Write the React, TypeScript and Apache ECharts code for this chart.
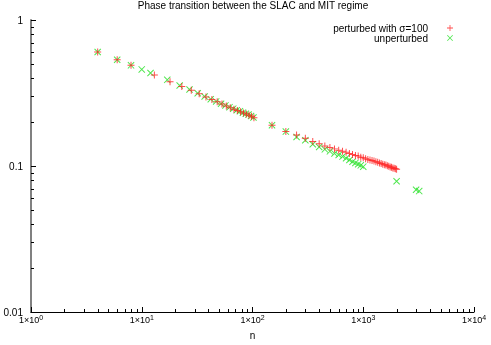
import React, { useEffect, useRef } from "react";
import * as echarts from "echarts";

const titleText = "Phase transition between the SLAC and MIT regime";
const perturbedName = "perturbed with \u03c3=100";
const unperturbedName = "unperturbed";

const perturbedN = [4, 6, 8, 13, 18, 23, 28, 33, 38, 43, 48, 53, 58, 63, 68, 73, 78, 83, 88, 93, 98, 103,
  150, 200, 250, 300, 350, 400, 450, 500, 550, 600, 650, 700, 750, 800, 850, 900, 950, 1000,
  1050, 1100, 1150, 1200, 1250, 1300, 1350, 1400, 1450, 1500, 1550, 1600, 1650, 1700, 1750, 1800, 1850, 1900, 1950, 2000];
const perturbedV = [0.603, 0.534, 0.489, 0.42, 0.377, 0.35, 0.33, 0.312, 0.297, 0.285, 0.275, 0.266, 0.258, 0.251, 0.245, 0.24, 0.235, 0.231, 0.227, 0.223, 0.219, 0.214,
  0.19, 0.172, 0.163, 0.155, 0.147, 0.142, 0.137, 0.134, 0.131, 0.128, 0.126, 0.124, 0.122, 0.12, 0.118, 0.117, 0.115, 0.114,
  0.112, 0.111, 0.11, 0.109, 0.108, 0.107, 0.106, 0.105, 0.104, 0.103, 0.102, 0.1015, 0.1005, 0.0995, 0.0985, 0.098, 0.097, 0.0965, 0.0958, 0.095];

const unperturbedN = [4, 6, 8, 10, 12, 17, 22, 27, 32, 37, 42, 47, 52, 57, 62, 67, 72, 77, 82, 87, 92, 97, 102,
  150, 200, 250, 300, 350, 400, 450, 500, 550, 600, 650, 700, 750, 800, 850, 900, 950, 1000, 2000, 3000, 3200];
const unperturbedV = [0.603, 0.534, 0.489, 0.459, 0.434, 0.389, 0.356, 0.334, 0.315, 0.299, 0.287, 0.277, 0.267, 0.26, 0.253, 0.247, 0.241, 0.237, 0.232, 0.228, 0.225, 0.22, 0.215,
  0.19, 0.172, 0.158, 0.15, 0.141, 0.135, 0.13, 0.126, 0.122, 0.119, 0.116, 0.113, 0.11, 0.107, 0.105, 0.103, 0.101, 0.099, 0.0787, 0.0687, 0.0673];

const xMinorTicks = [2, 3, 4, 5, 6, 7, 8, 9, 20, 30, 40, 50, 60, 70, 80, 90, 200, 300, 400, 500, 600, 700, 800, 900,
  2000, 3000, 4000, 5000, 6000, 7000, 8000, 9000];
const yMinorTicks = [0.02, 0.03, 0.04, 0.05, 0.06, 0.07, 0.08, 0.09, 0.2, 0.3, 0.4, 0.5, 0.6, 0.7, 0.8, 0.9];

const FONT = "Liberation Sans";
const PLUS = "path://M0,4.3H10V5.7H0Z M4.3,0H5.7V10H4.3Z";
const CROSS = "path://M0,1L1,0L10,9L9,10Z M9,0L10,1L1,10L0,9Z";

export default function App() {
  const ref = useRef<HTMLDivElement>(null);
  useEffect(() => {
    if (!ref.current) return;
    const chart = echarts.init(ref.current, undefined, { renderer: "svg" });
    const pert = perturbedN.map((n, i) => [n, perturbedV[i]]);
    const unpert = unperturbedN.map((n, i) => [n, unperturbedV[i]]);
    const xt = xMinorTicks.map((v) => [v, 0.01]);
    const yt = yMinorTicks.map((v) => [1, v]);
    const legendBase = {
      right: 38,
      align: "right",
      padding: 0,
      itemWidth: 6,
      itemHeight: 6,
      textStyle: { fontSize: 10, color: "#000", fontFamily: FONT, padding: [0, 14, 0, 0] },
    };
    chart.setOption({
      animation: false,
      textStyle: { fontFamily: FONT },
      title: {
        text: titleText,
        left: 253,
        top: 0,
        padding: 0,
        textAlign: "center",
        textStyle: { fontSize: 10, fontWeight: "normal", color: "#000", fontFamily: FONT },
      },
      legend: [
        { ...legendBase, data: [perturbedName], top: 23 },
        { ...legendBase, data: [unperturbedName], top: 33 },
      ],
      grid: { left: 31, right: 17, top: 20, bottom: 31, containLabel: false },
      xAxis: {
        type: "log",
        logBase: 10,
        min: 1,
        max: 10000,
        name: "n",
        nameLocation: "middle",
        nameGap: 18,
        nameTextStyle: { fontSize: 10, color: "#000", fontFamily: FONT },
        axisLine: { lineStyle: { color: "#000", width: 1 } },
        axisTick: { inside: true, length: 5, lineStyle: { color: "#000" } },
        splitLine: { show: false },
        axisLabel: {
          margin: 2,
          formatter: (v: number) => `{a|1\u00d710}{b|${Math.round(Math.log10(v))}}`,
          rich: {
            a: { fontSize: 9, color: "#000", fontFamily: FONT, lineHeight: 12 },
            b: { fontSize: 7, color: "#000", fontFamily: FONT, verticalAlign: "top", lineHeight: 12 },
          },
        },
      },
      yAxis: {
        type: "log",
        logBase: 10,
        min: 0.01,
        max: 1,
        axisLine: { lineStyle: { color: "#808080", width: 2 } },
        axisTick: { inside: true, length: 5, lineStyle: { color: "#000" } },
        splitLine: { show: false },
        axisLabel: {
          margin: 8,
          fontSize: 10,
          color: "#000",
          fontFamily: FONT,
          formatter: (v: number) => String(+v.toPrecision(3)),
        },
      },
      series: [
        {
          name: unperturbedName,
          type: "scatter",
          data: unpert,
          symbol: CROSS,
          symbolSize: 7,
          itemStyle: { color: "#22e022" },
          z: 2,
        },
        {
          name: perturbedName,
          type: "scatter",
          data: pert,
          symbol: PLUS,
          symbolSize: 7,
          itemStyle: { color: "#ff2020" },
          z: 3,
        },
        {
          type: "custom",
          silent: true,
          data: xt,
          z: 4,
          renderItem: (_p: any, api: any) => {
            const c = api.coord([api.value(0), api.value(1)]);
            const x = Math.round(c[0]) + 0.5;
            return {
              type: "line",
              shape: { x1: x, y1: c[1], x2: x, y2: c[1] - 3 },
              style: { stroke: "#000", lineWidth: 1 },
            };
          },
        },
        {
          type: "custom",
          silent: true,
          data: yt,
          z: 4,
          renderItem: (_p: any, api: any) => {
            const c = api.coord([api.value(0), api.value(1)]);
            const y = Math.round(c[1]) + 0.5;
            return {
              type: "line",
              shape: { x1: c[0], y1: y, x2: c[0] + 3, y2: y },
              style: { stroke: "#000", lineWidth: 1 },
            };
          },
        },
      ],
    });
    return () => chart.dispose();
  }, []);
  return <div ref={ref} style={{ position: "fixed", left: 0, top: 0, width: 491, height: 345 }} />;
}
